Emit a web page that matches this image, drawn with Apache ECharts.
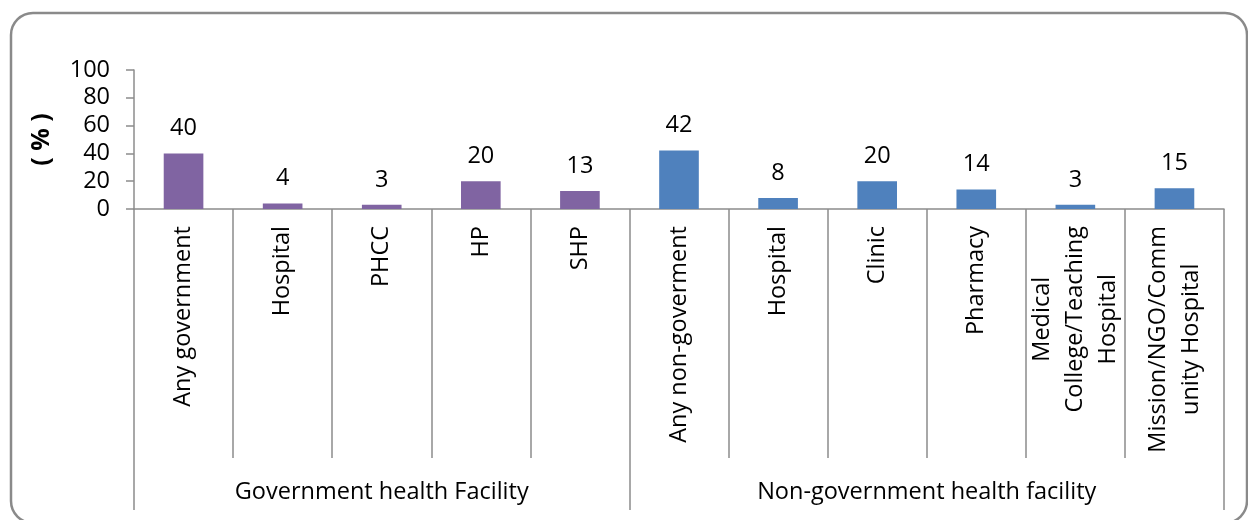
<!DOCTYPE html>
<html>
<head>
<meta charset="utf-8">
<title>Health facility</title>
<script src="https://cdn.jsdelivr.net/npm/echarts@6/dist/echarts.min.js"></script>
<style>
  html, body { margin: 0; padding: 0; background: #fff; }
  #main { width: 1248px; height: 520px; }
</style>
</head>
<body>
<div id="main"></div>
<script>
// categories (lines split as in the picture)
const categories = [
  'Any government', 'Hospital', 'PHCC', 'HP', 'SHP',
  'Any non-goverment', 'Hospital', 'Clinic', 'Pharmacy',
  'Medical\nCollege/Teaching\nHospital', 'Mission/NGO/Comm\nunity Hospital'
];
const values = [40, 4, 3, 20, 13, 42, 8, 20, 14, 3, 15];
const groups = ['Government health Facility', 'Non-government health facility'];
const groupSizes = [5, 6];
const groupColors = ['#8064A2', '#4F81BD'];
const yTicks = [0, 20, 40, 60, 80, 100];

const FONT = 'Open Sans';
const FS = 23.5;
const AXIS_GREY = '#8c8c8c';

// group boundaries / centres on a 0..n scale
const bounds = [0];
groupSizes.forEach(function (s) { bounds.push(bounds[bounds.length - 1] + s); });
const centres = groupSizes.map(function (s, i) { return bounds[i] + s / 2; });

const barData = values.map(function (v, i) {
  let g = 0;
  while (i >= bounds[g + 1]) g++;
  return { value: v, itemStyle: { color: groupColors[g] } };
});

const chart = echarts.init(document.getElementById('main'), null, { renderer: 'canvas' });

const option = {
  animation: false,
  textStyle: { fontFamily: FONT },
  graphic: [{
    type: 'rect',
    z: -1,
    shape: { x: 11, y: 13, width: 1236, height: 510, r: 22 },
    style: { fill: 'none', stroke: '#8a8a8a', lineWidth: 2.5 }
  }],
  grid: { left: 134, right: 24, top: 70, bottom: 311, containLabel: false },
  xAxis: [{
    type: 'category',
    data: categories,
    axisLine: { show: true, lineStyle: { color: AXIS_GREY, width: 1.5 } },
    axisTick: { show: true, interval: 0, length: 249, lineStyle: { color: AXIS_GREY, width: 1.5 } },
    axisLabel: {
      show: true,
      interval: 0,
      rotate: 90,
      margin: 17,
      color: '#000',
      fontSize: FS,
      fontFamily: FONT,
      lineHeight: 33,
      formatter: function (v) {
        return v.split('\n').map(function (l) { return '{c|' + l + '}'; }).join('\n');
      },
      rich: { c: { align: 'center', fontSize: FS, fontFamily: FONT, color: '#000', lineHeight: 33 } }
    }
  }, {
    type: 'value',
    min: 0,
    max: categories.length,
    position: 'bottom',
    offset: 0,
    axisLine: { show: false },
    splitLine: { show: false },
    axisTick: {
      show: true,
      customValues: bounds,
      length: 301,
      lineStyle: { color: AXIS_GREY, width: 1.5 }
    },
    axisLabel: {
      customValues: centres,
      margin: 271,
      color: '#000',
      fontSize: FS,
      fontFamily: FONT,
      formatter: function (v) {
        const i = centres.indexOf(v);
        return i >= 0 ? groups[i] : '';
      }
    }
  }],
  yAxis: {
    type: 'value',
    min: 0,
    max: 100,
    interval: 20,
    name: '( % )',
    nameLocation: 'middle',
    nameRotate: 90,
    nameGap: 80,
    nameTextStyle: { fontSize: 25, fontWeight: 'bold', color: '#000', fontFamily: FONT },
    axisLine: { show: true, lineStyle: { color: AXIS_GREY, width: 1.5 } },
    axisTick: { show: true, length: 8, lineStyle: { color: AXIS_GREY, width: 1.5 } },
    splitLine: { show: false },
    axisLabel: {
      margin: 24,
      color: '#000',
      fontSize: FS,
      fontFamily: FONT,
      customValues: yTicks
    }
  },
  series: [{
    type: 'bar',
    xAxisIndex: 0,
    data: barData,
    barWidth: '40%',
    label: {
      show: true,
      position: 'top',
      distance: 13,
      color: '#000',
      fontSize: FS,
      fontFamily: FONT
    }
  }]
};

chart.setOption(option);
</script>
</body>
</html>
